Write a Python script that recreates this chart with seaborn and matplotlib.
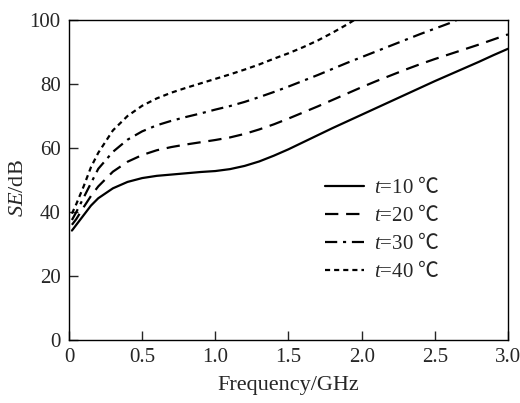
import numpy as np
import pandas as pd
import seaborn as sns
import matplotlib.pyplot as plt

# Values (frequency in GHz, SE in dB)
freq_10 = [0.02, 0.05, 0.1, 0.15, 0.2, 0.3, 0.4, 0.5, 0.6, 0.7, 0.8, 0.9, 1.0, 1.1, 1.2, 1.3, 1.4, 1.5,
           1.6, 1.7, 1.8, 1.9, 2.0, 2.1, 2.2, 2.3, 2.4, 2.5, 2.6, 2.7, 2.8, 2.9, 3.0]
se_10 = [34.2, 36.0, 39.0, 42.0, 44.3, 47.4, 49.4, 50.6, 51.3, 51.7, 52.1, 52.5, 52.8, 53.4, 54.4, 55.8,
         57.6, 59.6, 61.8, 64.0, 66.2, 68.3, 70.4, 72.5, 74.6, 76.7, 78.8, 80.9, 82.9, 84.9, 86.9, 89.0, 91.0]

freq_20 = freq_10
se_20 = [36.0, 37.8, 41.5, 45.0, 48.0, 52.6, 55.7, 57.8, 59.3, 60.3, 61.1, 61.8, 62.5, 63.3, 64.4, 65.8,
         67.4, 69.2, 71.1, 73.0, 75.0, 77.0, 79.0, 80.9, 82.7, 84.5, 86.2, 87.8, 89.3, 90.8, 92.3, 93.9, 95.5]

freq_30 = [0.02, 0.05, 0.1, 0.15, 0.2, 0.3, 0.4, 0.5, 0.6, 0.7, 0.8, 0.9, 1.0, 1.1, 1.2, 1.3, 1.4, 1.5,
           1.6, 1.7, 1.8, 1.9, 2.0, 2.1, 2.2, 2.3, 2.4, 2.5, 2.6, 2.65]
se_30 = [37.5, 40.0, 44.5, 49.0, 53.5, 58.8, 62.6, 65.2, 67.1, 68.5, 69.7, 70.8, 72.0, 73.1, 74.4, 75.9,
         77.5, 79.2, 81.0, 82.8, 84.7, 86.6, 88.4, 90.2, 92.0, 93.8, 95.6, 97.3, 99.0, 100.0]

freq_40 = [0.02, 0.05, 0.1, 0.15, 0.2, 0.3, 0.4, 0.5, 0.6, 0.7, 0.8, 0.9, 1.0, 1.1, 1.2, 1.3, 1.4, 1.5,
           1.6, 1.7, 1.8, 1.9, 1.95]
se_40 = [39.5, 42.5, 48.0, 54.0, 58.5, 65.5, 70.0, 73.2, 75.5, 77.3, 78.8, 80.2, 81.6, 83.0, 84.5, 86.1,
         87.9, 89.6, 91.5, 93.6, 96.0, 98.6, 100.0]

# the degree-Celsius sign goes through \mathsf, which is mapped to a font that has it
labels = [r"$t$=10 $\mathsf{℃}$", r"$t$=20 $\mathsf{℃}$", r"$t$=30 $\mathsf{℃}$", r"$t$=40 $\mathsf{℃}$"]
x_ticks = [0, 0.5, 1.0, 1.5, 2.0, 2.5, 3.0]
x_tick_labels = ["0", "0.5", "1.0", "1.5", "2.0", "2.5", "3.0"]
y_ticks = [0, 20, 40, 60, 80, 100]

# Long-form table for seaborn
frames = []
for lab, f, s in zip(labels, [freq_10, freq_20, freq_30, freq_40], [se_10, se_20, se_30, se_40]):
    frames.append(pd.DataFrame({"freq": f, "se": s, "temp": lab}))
df = pd.concat(frames, ignore_index=True)

sns.set_style("ticks")
plt.rcParams["font.family"] = ["Liberation Serif", "Noto Sans CJK SC"]
plt.rcParams["mathtext.fontset"] = "custom"
plt.rcParams["mathtext.rm"] = "Liberation Serif"
plt.rcParams["mathtext.it"] = "Liberation Serif:italic"
plt.rcParams["mathtext.sf"] = "Noto Sans CJK SC"

fig = plt.figure(figsize=(5.2, 4.03), dpi=100)
ax = fig.add_axes([0.1327, 0.1563, 0.8442, 0.7941])

dashes = {
    labels[0]: "",
    labels[1]: (6, 3.5),
    labels[2]: (5.5, 2.6, 1.4, 2.6),
    labels[3]: (2.3, 1.8),
}
sns.lineplot(data=df, x="freq", y="se", hue="temp", style="temp", dashes=dashes,
             palette=["black"] * 4, linewidth=1.6, ax=ax, sort=False)

ax.set_xlim(0, 3.0)
ax.set_ylim(0, 100)
ax.set_xticks(x_ticks)
ax.set_xticklabels(x_tick_labels)
ax.set_yticks(y_ticks)
ax.tick_params(direction="in", length=6.5, width=1, labelsize=15, pad=6)
for sp in ax.spines.values():
    sp.set_linewidth(1.0)
    sp.set_color("black")
ax.set_xlabel("Frequency/GHz", fontsize=16, labelpad=6)
ax.set_ylabel("$SE$/dB", fontsize=16)
ax.yaxis.set_label_coords(-0.093, 0.475)

leg = ax.legend(loc="upper left", bbox_to_anchor=(0.565, 0.535), frameon=False, fontsize=15,
                handlelength=1.85, handletextpad=0.5, labelspacing=0.34, borderaxespad=0)

fig.savefig("out.png", dpi=100)
